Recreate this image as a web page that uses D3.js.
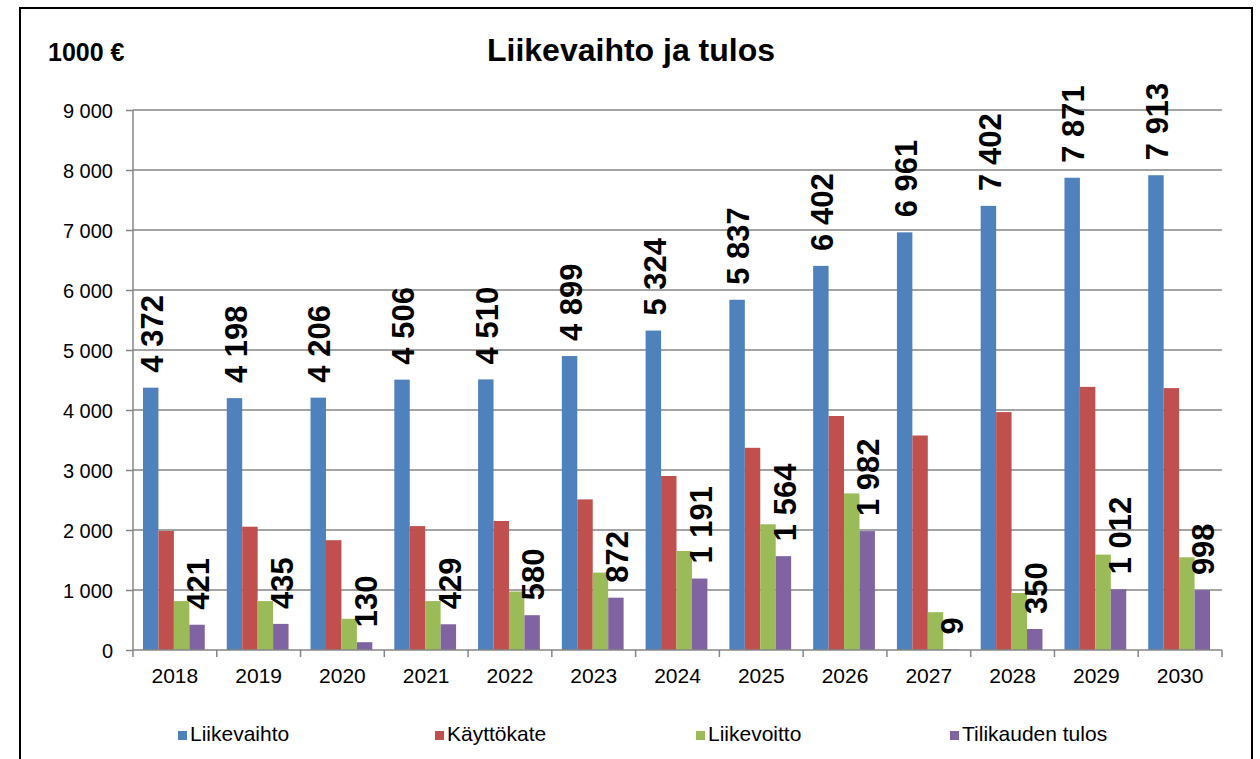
<!DOCTYPE html>
<html>
<head>
<meta charset="utf-8">
<script src="https://cdn.jsdelivr.net/npm/d3@7"></script>
<style>
  body { margin: 0; background: #fff; }
  text { font-family: Arial, "Liberation Sans", sans-serif; }
</style>
</head>
<body>
<script>
// Data
let years = ["2018", "2019", "2020", "2021", "2022", "2023", "2024", "2025", "2026", "2027", "2028", "2029", "2030"];
let seriesNames = ["Liikevaihto", "Käyttökate", "Liikevoitto", "Tilikauden tulos"];
let liikevaihto = [4372, 4198, 4206, 4506, 4510, 4899, 5324, 5837, 6402, 6961, 7402, 7871, 7913];
let kayttokate = [1985, 2055, 1830, 2065, 2150, 2510, 2900, 3370, 3900, 3575, 3965, 4385, 4365];
let liikevoitto = [815, 815, 520, 815, 975, 1290, 1650, 2095, 2610, 630, 950, 1590, 1545];
let tulos = [421, 435, 130, 429, 580, 872, 1191, 1564, 1982, 9, 350, 1012, 998];
let yTicks = [0, 1000, 2000, 3000, 4000, 5000, 6000, 7000, 8000, 9000];
let colors = ["#4F81BD", "#C0504D", "#9BBB59", "#8064A2"];

let allSeries = [liikevaihto, kayttokate, liikevoitto, tulos];
// only first and last series get value labels
let labelled = [true, false, false, true];

let width = 1260;
let height = 759;
let plotLeft = 133, plotRight = 1222, plotTop = 110, plotBottom = 650;

let fi = d3.formatLocale({decimal: ",", thousands: " ", grouping: [3], currency: ["", " €"]});
let fmt = fi.format(",d");

let svg = d3.select("body")
  .append("svg")
  .attr("width", width)
  .attr("height", height);

// outer frame
svg.append("rect")
  .attr("x", 20).attr("y", 8)
  .attr("width", 1232).attr("height", 780)
  .attr("fill", "none")
  .attr("stroke", "#000")
  .attr("stroke-width", 2);

svg.append("text")
  .attr("x", 631).attr("y", 61)
  .attr("text-anchor", "middle")
  .style("font-size", "32px")
  .style("font-weight", "bold")
  .text("Liikevaihto ja tulos");

svg.append("text")
  .attr("x", 48).attr("y", 61)
  .style("font-size", "25px")
  .style("font-weight", "bold")
  .text("1000 €");

let x0 = d3.scaleBand().domain(years).range([plotLeft, plotRight]);
let x1 = d3.scaleBand().domain(d3.range(4)).range([10, x0.bandwidth() - 12]);
let y = d3.scaleLinear().domain([0, 9000]).range([plotBottom, plotTop]);

// gridlines
svg.append("g")
  .selectAll("line")
  .data(yTicks.filter(d => d > 0))
  .enter()
  .append("line")
  .attr("x1", plotLeft).attr("x2", plotRight)
  .attr("y1", d => y(d)).attr("y2", d => y(d))
  .attr("stroke", "#868686")
  .attr("stroke-width", 1.5);

// y axis
let yAxis = svg.append("g")
  .attr("transform", `translate(${plotLeft},0)`)
  .call(d3.axisLeft(y).tickValues(yTicks).tickFormat(fmt).tickSize(7).tickPadding(13));
yAxis.selectAll("line, path").attr("stroke", "#868686").attr("stroke-width", 1.5);
yAxis.select("path").attr("d", `M0,${plotTop}V${plotBottom}`);
yAxis.selectAll("text")
  .style("font-size", "20px")
  .attr("fill", "#000")
  .attr("dy", "0.35em");

// bars
let groups = svg.append("g")
  .selectAll("g")
  .data(years)
  .enter()
  .append("g")
  .attr("transform", d => `translate(${x0(d)},0)`);

groups.selectAll("rect")
  .data((d, i) => allSeries.map((s, k) => ({k: k, v: s[i]})))
  .enter()
  .append("rect")
  .attr("x", d => x1(d.k))
  .attr("width", x1.bandwidth())
  .attr("y", d => y(d.v))
  .attr("height", d => plotBottom - y(d.v))
  .attr("fill", d => colors[d.k]);

// value labels, rotated
groups.selectAll("text.lbl")
  .data((d, i) => allSeries.map((s, k) => ({k: k, v: s[i]})).filter(d => labelled[d.k]))
  .enter()
  .append("text")
  .attr("class", "lbl")
  .attr("transform", d => `translate(${x1(d.k) + x1.bandwidth() / 2 + 1},${y(d.v) - 15}) rotate(-90)`)
  .attr("dy", "0.36em")
  .style("font-size", "31px")
  .style("font-weight", "bold")
  .text(d => fmt(d.v));

// x axis
let xAxis = svg.append("g")
  .attr("transform", `translate(0,${plotBottom})`);
xAxis.append("line")
  .attr("x1", plotLeft).attr("x2", plotRight)
  .attr("stroke", "#868686").attr("stroke-width", 1.5);
xAxis.selectAll("line.tick")
  .data(years.map(d => x0(d)).concat([plotRight]))
  .enter()
  .append("line")
  .attr("class", "tick")
  .attr("x1", d => d).attr("x2", d => d)
  .attr("y1", 0).attr("y2", 7)
  .attr("stroke", "#868686").attr("stroke-width", 1.5);
xAxis.selectAll("text")
  .data(years)
  .enter()
  .append("text")
  .attr("x", d => x0(d) + x0.bandwidth() / 2)
  .attr("y", 33)
  .attr("text-anchor", "middle")
  .style("font-size", "21px")
  .text(d => d);

// legend
let legendX = [178, 435, 696, 950];
let legend = svg.append("g")
  .selectAll("g")
  .data(seriesNames)
  .enter()
  .append("g")
  .attr("transform", (d, i) => `translate(${legendX[i]},731)`);
legend.append("rect")
  .attr("width", 9).attr("height", 9)
  .attr("fill", (d, i) => colors[i]);
legend.append("text")
  .attr("x", 12).attr("y", 10)
  .style("font-size", "21px")
  .text(d => d);
</script>
</body>
</html>
